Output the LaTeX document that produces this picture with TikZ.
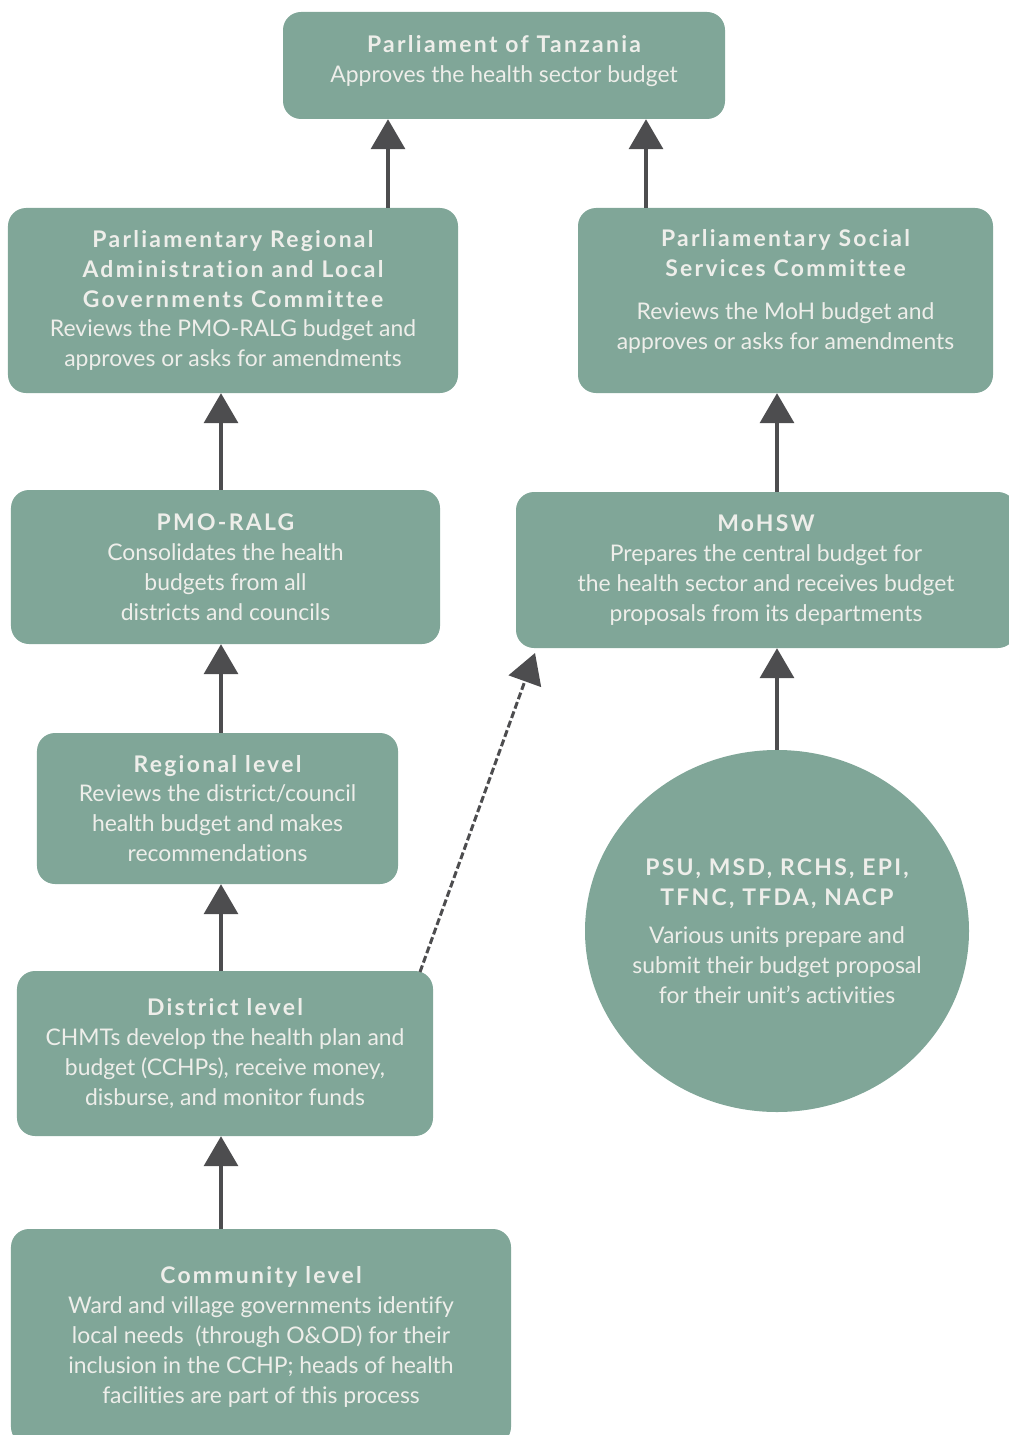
\documentclass[tikz,border=0pt]{standalone}
\usepackage{fontspec}
\setmainfont[Ligatures=NoCommon]{Lato}
\newfontfamily\titlefont[LetterSpace=10, Ligatures=NoCommon]{Lato Bold}
\usepackage{tikz}
\usetikzlibrary{arrows.meta, shapes.geometric}
\definecolor{boxGreen}{RGB}{128,166,152}
\definecolor{boxText}{RGB}{238,238,234}
\definecolor{arrowGrey}{RGB}{77,77,79}
\newcommand{\ttl}[1]{{\titlefont #1}}

\begin{document}
\begin{tikzpicture}[x=1bp, y=-1bp,
  box/.style={fill=boxGreen, rounded corners=18bp, inner sep=0pt, text=boxText,
    align=center, font=\fontsize{23}{30}\selectfont},
  arrow/.style={draw=arrowGrey, line width=3.5bp, -{Triangle[width=34bp, length=30bp]}}]

  \useasboundingbox (0,0) rectangle (1008,1435);

  % columns of the arrows
  \coordinate (lcol) at (221,0);
  \coordinate (rcol) at (777,0);
  \coordinate (pl) at (388,0);
  \coordinate (pr) at (646,0);

  \node[box, minimum width=442bp, minimum height=107bp] (parl) at (504,65.5)
    {\ttl{Parliament of Tanzania}\\Approves the health sector budget\\[-17bp]};
  \node[box, minimum width=450bp, minimum height=185bp] (prcom) at (233,300.5)
    {\ttl{Parliamentary Regional}\\\ttl{Administration and Local}\\\ttl{Governments Committee}\\
     Reviews the PMO-RALG budget and\\approves or asks for amendments};
  \node[box, minimum width=415bp, minimum height=185bp] (sscom) at (785.5,300.5)
    {\ttl{Parliamentary Social}\\\ttl{Services Committee}\\[13bp]
     Reviews the MoH budget and\\approves or asks for amendments\\[-8bp]};
  \node[box, minimum width=429bp, minimum height=154bp] (pmo) at (225.5,567)
    {\ttl{PMO-RALG}\\Consolidates the health\\budgets from all\\districts and councils};
  \node[box, minimum width=500bp, minimum height=156bp] (mohsw) at (766,570)
    {\ttl{MoHSW}\\Prepares the central budget for\\the health sector and receives budget\\proposals from its departments};
  \node[box, minimum width=361bp, minimum height=151bp] (reg) at (217.5,808.5)
    {\ttl{Regional level}\\Reviews the district/council\\health budget and makes\\recommendations};
  \node[box, minimum width=416bp, minimum height=165bp] (dist) at (225,1053.5)
    {\ttl{District level}\\CHMTs develop the health plan and\\budget (CCHPs), receive money,\\disburse, and monitor funds};
  \node[box, minimum width=500bp, minimum height=216bp] (comm) at (261,1337)
    {\ttl{Community level}\\Ward and village governments identify\\local needs\ \ (through O\&OD) for their\\
     inclusion in the CCHP; heads of health\\facilities are part of this process};
  \node[box, ellipse, inner xsep=-20bp, minimum width=384bp, minimum height=362bp] (units) at (777,931)
    {\ttl{PSU, MSD, RCHS, EPI,}\\\ttl{TFNC, TFDA, NACP}\\[8bp]
     Various units prepare and\\submit their budget proposal\\for their unit’s activities};

  \draw[arrow] (prcom.north -| pl) -- (parl.south -| pl);
  \draw[arrow] (sscom.north -| pr) -- (parl.south -| pr);
  \draw[arrow] (pmo.north -| lcol) -- (prcom.south -| lcol);
  \draw[arrow] (reg.north -| lcol) -- (pmo.south -| lcol);
  \draw[arrow] (dist.north -| lcol) -- (reg.south -| lcol);
  \draw[arrow] (comm.north -| lcol) -- (dist.south -| lcol);
  \draw[arrow] (mohsw.north -| rcol) -- (sscom.south -| rcol);
  \draw[arrow] (units.north) -- (mohsw.south -| rcol);

  % dashed link district -> MoHSW
  \coordinate (dstart) at (420,972);
  \coordinate (dend) at (535,653);
  \draw[arrow, line width=3bp, dash pattern=on 7bp off 3bp] (dstart) -- (dend);
\end{tikzpicture}
\end{document}
